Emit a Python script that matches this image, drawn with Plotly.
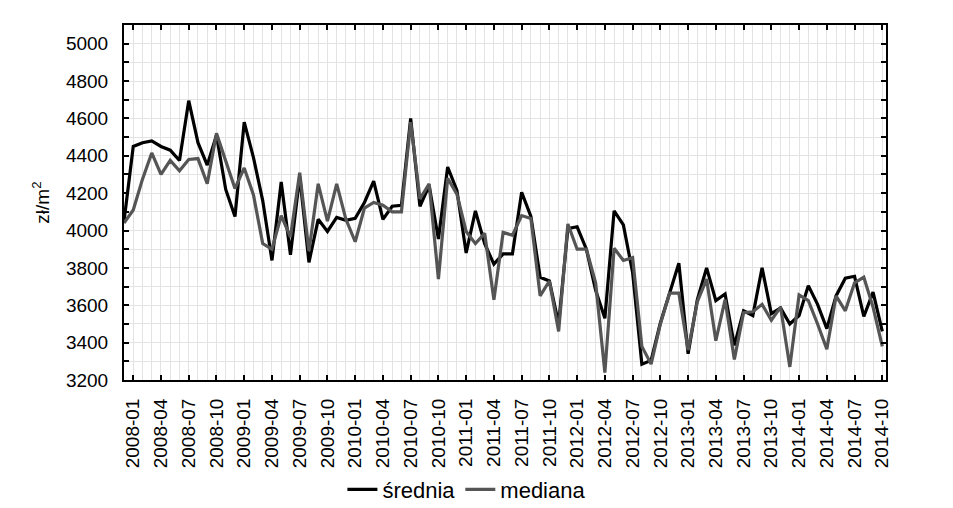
import plotly.graph_objects as go

# month labels: data from 2007-12 to 2014-10
months = ["2007-12"] + [f"{y}-{m:02d}" for y in range(2008, 2015) for m in range(1, 13)][:82]

srednia = [4050,
    4450, 4470, 4480, 4450, 4430, 4375, 4695, 4470, 4350, 4510, 4220, 4075,
    4580, 4390, 4160, 3840, 4260, 3870, 4290, 3830, 4060, 3995, 4070, 4055,
    4065, 4150, 4265, 4060, 4130, 4135, 4600, 4130, 4240, 3955, 4340, 4215,
    3880, 4105, 3930, 3820, 3875, 3875, 4205, 4075, 3750, 3730, 3500, 4010,
    4020, 3900, 3680, 3530, 4105, 4030, 3775, 3285, 3305, 3505, 3660, 3825,
    3340, 3630, 3800, 3625, 3660, 3385, 3570, 3545, 3800, 3555, 3585, 3500,
    3545, 3705, 3605, 3475, 3650, 3745, 3755, 3540, 3670, 3460]

mediana = [4040,
    4110, 4275, 4415, 4300, 4375, 4320, 4380, 4385, 4250, 4520, 4370, 4225,
    4335, 4190, 3930, 3900, 4080, 3965, 4310, 3890, 4250, 4050, 4250, 4060,
    3940, 4120, 4150, 4135, 4100, 4100, 4580, 4170, 4250, 3740, 4280, 4195,
    3995, 3930, 3985, 3630, 3990, 3975, 4080, 4065, 3650, 3730, 3460, 4035,
    3900, 3900, 3720, 3240, 3905, 3840, 3855, 3380, 3285, 3500, 3665, 3665,
    3360, 3620, 3740, 3410, 3630, 3310, 3560, 3565, 3605, 3520, 3590, 3270,
    3655, 3625, 3500, 3365, 3650, 3570, 3720, 3750, 3590, 3380]

tick_labels = [m for m in months if m[5:] in ("01", "04", "07", "10")]

xpos = list(range(-1, len(months) - 1))
label_pos = [xpos[months.index(t)] for t in tick_labels]

fig = go.Figure()
fig.add_trace(go.Scatter(x=xpos, y=srednia, mode="lines", name="średnia",
                         line=dict(color="#000000", width=3.2)))
fig.add_trace(go.Scatter(x=xpos, y=mediana, mode="lines", name="mediana",
                         line=dict(color="#555555", width=3.2)))

font = "Liberation Sans, Arial, sans-serif"
fig.update_layout(
    width=953, height=508,
    margin=dict(l=116, r=75, t=17, b=136, autoexpand=False),
    paper_bgcolor="white", plot_bgcolor="white",
    font=dict(family=font, size=19, color="black"),
    showlegend=True,
    legend=dict(orientation="h", x=0.45, xanchor="center", yref="container", y=0.052,
                yanchor="middle", font=dict(size=22), itemwidth=30, tracegroupgap=0),
    xaxis=dict(range=[-1, 81.4], tickmode="array", tickvals=label_pos, ticktext=tick_labels,
               tickangle=-90, ticks="inside", ticklen=5, tickwidth=1.5, tickcolor="black",
               showline=True, linecolor="black", linewidth=2, mirror="ticks",
               showgrid=True, gridcolor="#e3e3e3", gridwidth=1,
               minor=dict(dtick=1, tick0=0, showgrid=True, gridcolor="#e3e3e3", gridwidth=1),
               zeroline=False, tickfont=dict(size=19), ticklabelstandoff=9, automargin=False),
    yaxis=dict(range=[3200, 5100], dtick=200, tick0=3200, ticks="inside", ticklen=5, tickwidth=1.5,
               tickcolor="black", showline=True, linecolor="black", linewidth=2, mirror="ticks",
               showgrid=True, gridcolor="#e3e3e3", gridwidth=1,
               minor=dict(dtick=100, ticks="inside", ticklen=5, tickcolor="black", showgrid=True,
                          gridcolor="#e3e3e3", gridwidth=1),
               zeroline=False, tickfont=dict(size=19), ticklabelstandoff=10, automargin=False),
    annotations=[dict(text="zł/m<sup>2</sup>", xref="paper", yref="paper", x=-0.11, y=0.5,
                      xanchor="center", yanchor="middle",
                      textangle=-90, showarrow=False, font=dict(size=19))],
)

fig.write_html("out.html")
